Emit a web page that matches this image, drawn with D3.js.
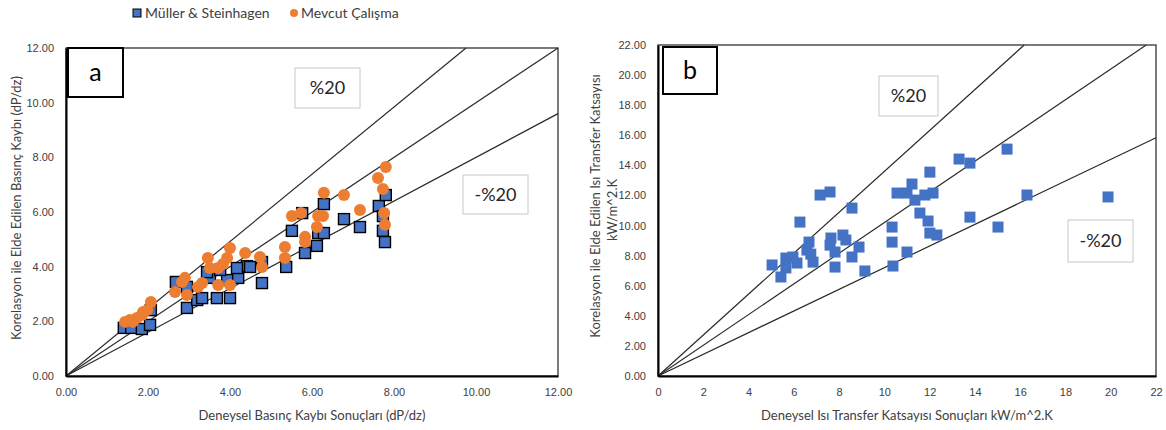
<!DOCTYPE html>
<html>
<head>
<meta charset="utf-8">
<script src="https://cdn.jsdelivr.net/npm/d3@7"></script>
<style>
    body { margin: 0; background: #fff; }
    svg { font-family: Lato, "Liberation Sans", sans-serif; }
    .tick-label { font-size: 11px; fill: #404040; }
    .axis-title { font-size: 13px; fill: #404040; }
</style>
</head>
<body>
<div id="chart"></div>
<script>
// ---- data ----
// panel a: pressure drop (dP/dz)
const mullerX = [1.41, 1.59, 1.85, 2.05, 2.07, 2.68, 2.95, 2.95, 3.20, 3.32, 3.68, 4.00, 3.51, 3.93, 4.20, 4.41,
    4.78, 4.78, 3.44, 3.76, 4.17, 4.49, 5.37, 5.51, 5.83, 6.12, 6.15, 6.29, 5.76, 6.29, 6.78, 7.17, 7.63, 7.80,
    7.73, 7.73, 7.78];
const mullerY = [1.76, 1.76, 1.72, 1.87, 2.41, 3.44, 3.26, 2.49, 2.78, 2.85, 2.85, 2.85, 3.59, 3.51, 3.59, 4.02,
    3.40, 4.17, 3.80, 3.88, 3.95, 3.99, 3.99, 5.31, 4.50, 4.76, 5.23, 5.23, 5.96, 6.29, 5.74, 5.45, 6.22, 6.62,
    5.85, 5.31, 4.90];
const mevcutX = [1.44, 1.56, 1.73, 1.85, 1.88, 2.07, 1.98, 1.63, 2.66, 2.83, 2.90, 2.95, 3.22, 3.32, 3.46, 3.51,
    3.71, 3.71, 4.00, 3.93, 4.00, 3.83, 4.37, 4.73, 4.78, 5.34, 5.34, 5.51, 5.73, 5.83, 5.83, 6.12, 6.15, 6.27,
    6.29, 6.78, 7.17, 7.61, 7.80, 7.73, 7.76, 7.78];
const mevcutY = [1.98, 2.05, 2.12, 2.23, 2.34, 2.71, 2.41, 1.98, 3.07, 3.44, 3.59, 2.96, 3.26, 3.40, 4.32, 3.95,
    3.95, 3.33, 3.33, 4.32, 4.68, 4.10, 4.50, 4.35, 3.99, 4.72, 4.32, 5.85, 5.96, 5.09, 4.90, 5.45, 5.85, 5.85,
    6.70, 6.62, 6.07, 7.24, 7.65, 6.84, 5.96, 5.53];
const ticksA = [0, 2, 4, 6, 8, 10, 12];
const boundsA = [1.23, 1.0, 0.8];   // %20 / 1:1 / -%20 reference lines (slope)

// panel b: heat transfer coefficient (kW/m^2.K)
const htcX = [5.04, 5.43, 5.65, 5.65, 5.96, 6.14, 6.27, 6.58, 6.67, 6.85, 6.75, 7.16, 7.60, 7.60, 7.64, 7.82, 7.82,
    8.17, 8.30, 8.57, 8.57, 8.88, 9.14, 10.34, 10.34, 10.38, 10.56, 15.42, 13.30, 13.78, 12.01, 11.22, 11.00,
    11.35, 11.79, 12.15, 16.30, 19.88, 11.57, 11.93, 13.78, 15.02, 12.01, 12.32, 11.00];
const htcY = [7.38, 6.58, 7.84, 7.18, 7.91, 7.51, 10.23, 8.37, 8.90, 7.57, 8.10, 12.03, 12.23, 8.70, 9.17, 8.24, 7.24,
    9.37, 9.04, 11.16, 7.91, 8.57, 6.98, 9.90, 8.90, 7.31, 12.16, 15.08, 14.42, 14.15, 13.55, 12.76, 12.16,
    11.69, 12.03, 12.16, 12.03, 11.90, 10.83, 10.30, 10.56, 9.90, 9.50, 9.37, 8.24];
const ticksBy = [0, 2, 4, 6, 8, 10, 12, 14, 16, 18, 20, 22];
const ticksBx = [0, 2, 4, 6, 8, 10, 12, 14, 16, 18, 20, 22];
const boundsB = [1.36, 1.02, 0.72];

const colors = {
    blue: '#4472C4',
    orange: '#ED7D31',
    text: '#404040',
    line: '#2b2b2b'
};

let svg = d3.select("#chart").append("svg")
    .attr("width", 1166)
    .attr("height", 430);

// ---- legend (top left) ----
let legend = svg.append("g");
legend.append("rect")
    .attr("x", 133).attr("y", 9).attr("width", 8).attr("height", 8)
    .attr("fill", colors.blue).attr("stroke", "#000").attr("stroke-width", 1);
legend.append("text")
    .attr("x", 145).attr("y", 18)
    .attr("font-size", 14).attr("fill", "#404040")
    .text("Müller & Steinhagen");
legend.append("circle")
    .attr("cx", 294).attr("cy", 13).attr("r", 4)
    .attr("fill", colors.orange);
legend.append("text")
    .attr("x", 301).attr("y", 18)
    .attr("font-size", 14).attr("fill", "#404040")
    .text("Mevcut Çalışma");

function drawPanel(opt) {
    let g = svg.append("g");

    let x = d3.scaleLinear().domain(opt.xDomain).range([opt.left, opt.right]);
    let y = d3.scaleLinear().domain(opt.yDomain).range([opt.bottom, opt.top]);

    // plot-area border
    g.append("rect")
        .attr("x", opt.left).attr("y", opt.top)
        .attr("width", opt.right - opt.left).attr("height", opt.bottom - opt.top)
        .attr("fill", "none").attr("stroke", "#333").attr("stroke-width", 1.3);

    // reference lines from the origin, clipped to the plot area
    let xMax = opt.xDomain[1], yMax = opt.yDomain[1];
    opt.bounds.forEach(k => {
        let xe = Math.min(xMax, yMax / k);
        g.append("line")
            .attr("x1", x(0)).attr("y1", y(0))
            .attr("x2", x(xe)).attr("y2", y(xe * k))
            .attr("stroke", colors.line).attr("stroke-width", 1.2);
    });

    // axes: only labels, no tick marks
    let xAxis = d3.axisBottom(x).tickValues(opt.xTicks).tickSize(0).tickPadding(12).tickFormat(opt.xFormat);
    let yAxis = d3.axisLeft(y).tickValues(opt.yTicks).tickSize(0).tickPadding(12).tickFormat(d3.format(".2f"));

    let gx = g.append("g").attr("transform", "translate(0," + opt.bottom + ")").call(xAxis);
    let gy = g.append("g").attr("transform", "translate(" + opt.left + ",0)").call(yAxis);
    [gx, gy].forEach(a => {
        a.select(".domain").attr("stroke", "#000").attr("stroke-width", 2);
        a.selectAll("text").attr("class", "tick-label").attr("font-family", null).attr("font-size", null);
    });

    // marks
    opt.series.forEach(s => {
        if (s.shape === 'square') {
            g.selectAll(null)
                .data(s.xs.map((v, i) => [v, s.ys[i]]))
                .enter().append("rect")
                .attr("x", d => x(d[0]) - s.size / 2)
                .attr("y", d => y(d[1]) - s.size / 2)
                .attr("width", s.size).attr("height", s.size)
                .attr("fill", colors.blue)
                .attr("stroke", s.stroke)
                .attr("stroke-width", s.stroke === 'none' ? 0 : 1.4);
        } else {
            g.selectAll(null)
                .data(s.xs.map((v, i) => [v, s.ys[i]]))
                .enter().append("circle")
                .attr("cx", d => x(d[0]))
                .attr("cy", d => y(d[1]))
                .attr("r", s.size / 2)
                .attr("fill", colors.orange);
        }
    });

    // axis titles
    g.append("text")
        .attr("class", "axis-title")
        .attr("x", opt.xTitlePos[0]).attr("y", opt.xTitlePos[1])
        .attr("text-anchor", "middle")
        .text(opt.xTitle);
    opt.yTitle.forEach((t, i) => {
        g.append("text")
            .attr("class", "axis-title")
            .attr("transform", "translate(" + opt.yTitlePos[i][0] + "," + opt.yTitlePos[i][1] + ") rotate(-90)")
            .attr("text-anchor", "middle")
            .text(t);
    });

    // panel letter box
    let lb = opt.letterBox;
    g.append("rect")
        .attr("x", lb[0]).attr("y", lb[1]).attr("width", lb[2]).attr("height", lb[3])
        .attr("fill", "#fff").attr("stroke", "#000").attr("stroke-width", 2);
    g.append("text")
        .attr("x", lb[0] + lb[2] / 2).attr("y", lb[1] + lb[3] / 2 + 8)
        .attr("text-anchor", "middle")
        .attr("font-size", 25).attr("fill", "#000")
        .text(opt.letter);

    // %20 labels
    opt.notes.forEach(n => {
        g.append("rect")
            .attr("x", n.box[0]).attr("y", n.box[1]).attr("width", n.box[2]).attr("height", n.box[3])
            .attr("fill", "#fff").attr("stroke", "#c8c8c8").attr("stroke-width", 1);
        g.append("text")
            .attr("x", n.box[0] + n.box[2] / 2).attr("y", n.box[1] + n.box[3] / 2 + 6)
            .attr("text-anchor", "middle")
            .attr("font-size", 18).attr("fill", "#262626")
            .text(n.text);
    });
}

drawPanel({
    left: 66, right: 558, top: 48, bottom: 376,
    xDomain: [0, 12], yDomain: [0, 12],
    xTicks: ticksA, yTicks: ticksA,
    xFormat: d3.format(".2f"),
    bounds: boundsA,
    series: [
        {shape: 'square', xs: mullerX, ys: mullerY, size: 11, stroke: '#000'},
        {shape: 'circle', xs: mevcutX, ys: mevcutY, size: 12}
    ],
    xTitle: "Deneysel Basınç Kaybı Sonuçları (dP/dz)",
    xTitlePos: [312, 420],
    yTitle: ["Korelasyon ile Elde Edilen Basınç Kaybı (dP/dz)"],
    yTitlePos: [[21, 208]],
    letter: "a",
    letterBox: [68, 48, 55, 49],
    notes: [
        {text: "%20", box: [295, 68, 65, 40]},
        {text: "-%20", box: [463, 175, 65, 39]}
    ]
});

drawPanel({
    left: 658, right: 1156, top: 45, bottom: 376,
    xDomain: [0, 22], yDomain: [0, 22],
    xTicks: ticksBx, yTicks: ticksBy,
    xFormat: d3.format("d"),
    bounds: boundsB,
    series: [
        {shape: 'square', xs: htcX, ys: htcY, size: 11, stroke: 'none'}
    ],
    xTitle: "Deneysel Isı Transfer Katsayısı Sonuçları kW/m^2.K",
    xTitlePos: [907, 420],
    yTitle: ["Korelasyon ile Elde Edilen Isı Transfer Katsayısı", "kW/m^2.K"],
    yTitlePos: [[600, 206], [617, 210]],
    letter: "b",
    letterBox: [663, 47, 54, 47],
    notes: [
        {text: "%20", box: [879, 76, 59, 40]},
        {text: "-%20", box: [1068, 220, 65, 42]}
    ]
});
</script>
</body>
</html>
